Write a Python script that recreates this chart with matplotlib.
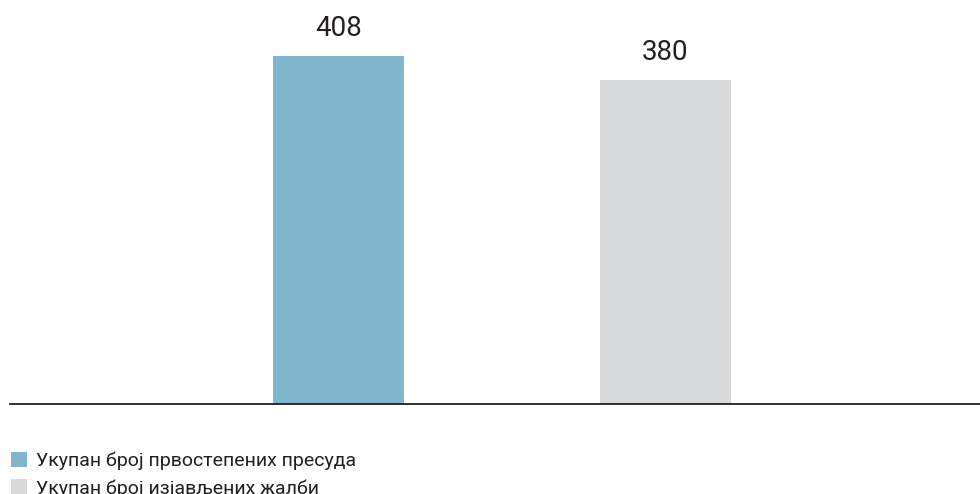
import matplotlib
matplotlib.use('Agg')
from matplotlib import pyplot as plt

plt.rcParams['font.family'] = ['Roboto', 'DejaVu Sans']

categories = ['Укупан број првостепених пресуда', 'Укупан број изјављених жалби']
values = [408, 380]
colors = ['#7fb6cd', '#d8d9db']

W, H = 980, 494
f = plt.figure(figsize=(W / 100, H / 100), dpi=100)

# axes: baseline at y=404px, spans x 10..980px
ax = f.add_axes([10 / W, (H - 404) / H, 970 / W, 384 / H])
ax.set_xlim(-1.005, 1.962)
ax.set_ylim(0, 450)

bars = ax.bar(range(len(values)), values, width=0.4, color=colors, label=categories, zorder=1)
for i, v in enumerate(values):
	ax.text(i, v + 16, str(v), ha='center', va='bottom', fontsize=20, color='#231f20')

ax.axhline(0, color='#231f20', lw=1.3, zorder=3, clip_on=False)
ax.axis('off')

leg = f.legend(handles=list(bars), labels=categories, loc='upper left',
	bbox_to_anchor=(3 / W, 1 - 444 / H), frameon=False, fontsize=14,
	handlelength=0.85, handleheight=0.85, handletextpad=0.45,
	labelspacing=0.45, borderaxespad=0, labelcolor='#231f20')

plt.savefig('out.png', dpi=100)
